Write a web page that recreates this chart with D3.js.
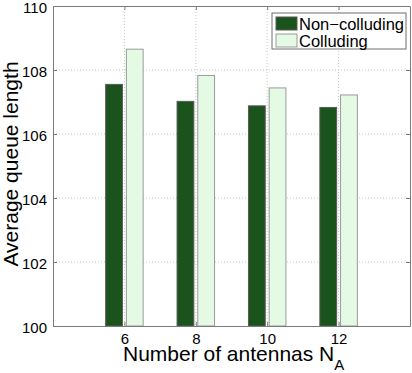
<!DOCTYPE html>
<html>
<head>
<meta charset="UTF-8">
<title>Average queue length</title>
<script src="https://cdn.jsdelivr.net/npm/d3@7"></script>
<style>
body { margin: 0; background: #fff; }
text { font-family: "Liberation Sans", Arial, sans-serif; fill: #000; }
</style>
</head>
<body>
<script>
// data
var antennas = [6, 8, 10, 12];
var nonColluding = [107.55, 107.02, 106.88, 106.83];
var colluding = [108.65, 107.83, 107.44, 107.22];
var seriesNames = ["Non\u2212colluding", "Colluding"];
var seriesColors = ["#1a531b", "#e5fae5"];
var yTicks = [100, 102, 104, 106, 108, 110];

var margin = {top: 6, right: 2, bottom: 47, left: 53};
var size = {width: 412 - margin.left - margin.right, height: 373 - margin.top - margin.bottom};

var svg = d3.select("body").append("svg")
  .attr("width", 412).attr("height", 373);
var g = svg.append("g")
  .attr("transform", "translate(" + margin.left + "," + margin.top + ")");

var xScale = d3.scaleLinear().domain([4, 14]).range([0, size.width]);
var yScale = d3.scaleLinear().domain([100, 110]).range([size.height, 0]);

// grid
g.append("g").selectAll("line").data(yTicks.slice(1, -1)).enter().append("line")
  .attr("x1", 0).attr("x2", size.width)
  .attr("y1", function(d) { return yScale(d); }).attr("y2", function(d) { return yScale(d); })
  .attr("stroke", "#c8c8c8").attr("stroke-dasharray", "1,2");
g.append("g").selectAll("line").data(antennas).enter().append("line")
  .attr("y1", 0).attr("y2", size.height)
  .attr("x1", function(d) { return xScale(d); }).attr("x2", function(d) { return xScale(d); })
  .attr("stroke", "#c8c8c8").attr("stroke-dasharray", "1,2");

// bars
var barW = 0.47, off = [-0.29, 0.29];
var edgeColors = ["#5a5a5a", "#9a9a9a"];
[nonColluding, colluding].forEach(function(vals, s) {
  g.append("g").selectAll("rect").data(vals).enter().append("rect")
    .attr("x", function(d, i) { return xScale(antennas[i] + off[s] - barW / 2); })
    .attr("width", xScale(4 + barW) - xScale(4))
    .attr("y", function(d) { return yScale(d); })
    .attr("height", function(d) { return yScale(100) - yScale(d); })
    .attr("fill", seriesColors[s])
    .attr("stroke", edgeColors[s]).attr("stroke-width", 1);
});

// axes
var axisColor = "#7a7a7a";
var yAxis = g.append("g").call(d3.axisLeft(yScale).tickValues(yTicks).tickSizeInner(-4).tickSizeOuter(0).tickPadding(6));
yAxis.selectAll("text").attr("dy", "0.42em");
var xAxis = g.append("g").attr("transform", "translate(0," + size.height + ")")
  .call(d3.axisBottom(xScale).tickValues(antennas).tickSizeInner(-4).tickSizeOuter(0).tickPadding(7));
g.append("g").call(d3.axisRight(yScale).tickValues(yTicks).tickSizeInner(-4).tickSizeOuter(0).tickFormat(""))
  .attr("transform", "translate(" + size.width + ",0)");
g.append("g").call(d3.axisTop(xScale).tickValues(antennas).tickSizeInner(-4).tickSizeOuter(0).tickFormat(""));
g.selectAll(".domain, .tick line").attr("stroke", axisColor);
g.selectAll(".tick text").style("font-size", "15px").attr("fill", "#000");

// axis labels
var xl = svg.append("text").attr("x", 123).attr("y", 361).style("font-size", "21px");
xl.append("tspan").text("Number of antennas N");
xl.append("tspan").attr("dy", 9).style("font-size", "15px").text("A");

svg.append("text")
  .attr("transform", "translate(18," + (margin.top + size.height / 2 - 2) + ") rotate(-90)")
  .attr("text-anchor", "middle").style("font-size", "21px")
  .text("Average queue length");

// legend
var leg = svg.append("g").attr("transform", "translate(272,13)");
leg.append("rect").attr("width", 134).attr("height", 36)
  .attr("fill", "#fff").attr("stroke", "#6e6e6e");
seriesNames.forEach(function(n, i) {
  leg.append("rect").attr("x", 4).attr("y", 4 + i * 17).attr("width", 21).attr("height", 13)
    .attr("fill", seriesColors[i]).attr("stroke", edgeColors[i]);
  leg.append("text").attr("x", 27).attr("y", 16.5 + i * 17).style("font-size", "16.5px").text(n);
});
</script>
</body>
</html>
